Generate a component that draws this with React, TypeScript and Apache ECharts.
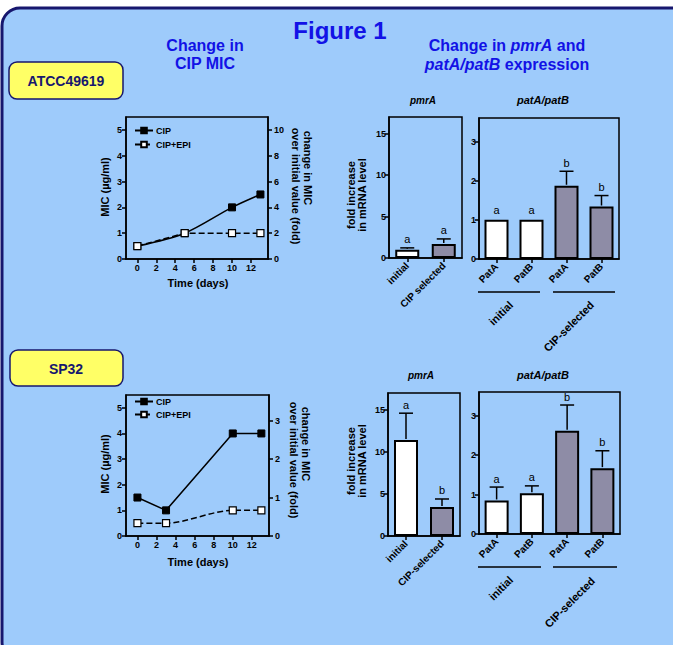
import React, { useEffect, useRef } from "react";
import * as echarts from "echarts";

// ---------- data ----------
const days1 = [0, 5, 10, 13];
const cip1 = [0.5, 1, 2, 2.5];
const cipEpi1 = [0.5, 1, 1, 1];

const days2 = [0, 3, 10, 13];
const cip2 = [1.5, 1, 4, 4];
const cipEpi2 = [0.5, 0.5, 1, 1];

const timeTicks = [0, 2, 4, 6, 8, 10, 12];
const micTicks = [0, 1, 2, 3, 4, 5];
const foldTicks1 = [0, 2, 4, 6, 8, 10];
const foldTicks2 = [0, 1, 2, 3];
const pmrTicks = [0, 5, 10, 15];
const patTicks = [0, 1, 2, 3];

const pmrCats1 = ["initial", "CIP selected"];
const pmrVals1 = [1.0, 1.7];
const pmrErr1 = [0.22, 0.6];
const pmrLetters1 = ["a", "a"];

const pmrCats2 = ["initial", "CIP-selected"];
const pmrVals2 = [11.4, 3.45];
const pmrErr2 = [3.2, 0.95];
const pmrLetters2 = ["a", "b"];

const patCats = ["PatA", "PatB", "PatA", "PatB"];
const patVals1 = [1.0, 1.0, 1.87, 1.34];
const patErr1 = [0, 0, 0.37, 0.28];
const patLetters1 = ["a", "a", "b", "b"];

const patVals2 = [0.85, 1.03, 2.62, 1.67];
const patErr2 = [0.34, 0.19, 0.65, 0.44];
const patLetters2 = ["a", "a", "b", "b"];

const groupLabels = ["initial", "CIP-selected"];

// ---------- styles ----------
const FF = '"Liberation Sans", Arial, Helvetica, sans-serif';
const BLUE = "#1212e6";
const NAVY = "#17176e";
const GREY = "#8e8ca6";
const pmrFills = ["#ffffff", GREY];
const patFills = ["#ffffff", "#ffffff", GREY, GREY];

const fnt = (size: number, weight = "bold", style = "normal") =>
  `${style} ${weight} ${size}px ${FF}`;

const txt = (text: string, x: number, y: number, font: string, o: any = {}) => ({
  type: "text",
  x,
  y,
  rotation: o.rot || 0,
  silent: true,
  z: 10,
  style: {
    text,
    font,
    fill: o.fill || "#000",
    textAlign: o.align || "center",
    textVerticalAlign: o.va || "middle",
  },
});

const hline = (x1: number, x2: number, y: number) => ({
  type: "line",
  silent: true,
  z: 10,
  shape: { x1, y1: y, x2, y2: y },
  style: { stroke: "#000", lineWidth: 1.6 },
});

const axisLineStyle = { show: true, onZero: false, lineStyle: { color: "#000", width: 1.5 } };
const tickStyle = (vals?: number[]) => ({
  show: true,
  length: 4,
  lineStyle: { color: "#000", width: 1.5 },
  ...(vals ? { customValues: vals } : {}),
});
const labelStyle = (vals?: number[], extra: any = {}) => ({
  show: true,
  color: "#000",
  fontSize: 9,
  fontWeight: "bold",
  fontFamily: FF,
  margin: 4,
  ...(vals ? { customValues: vals } : {}),
  ...extra,
});

function valueX(gridIndex: number) {
  return {
    type: "value",
    gridIndex,
    min: -1.2,
    max: 13.8,
    axisLine: axisLineStyle,
    axisTick: tickStyle(timeTicks),
    axisLabel: labelStyle(timeTicks),
    splitLine: { show: false },
  };
}

function catX(gridIndex: number, data: string[]) {
  return {
    type: "category",
    gridIndex,
    data,
    axisLine: axisLineStyle,
    axisTick: { ...tickStyle(), alignWithLabel: true },
    axisLabel: labelStyle(undefined, { rotate: 45, fontSize: 10, margin: 6, interval: 0 }),
    splitLine: { show: false },
  };
}

function valueY(gridIndex: number, max: number, ticks: number[], position = "left", margin = 4) {
  return {
    type: "value",
    gridIndex,
    position,
    min: 0,
    max,
    axisLine: axisLineStyle,
    axisTick: tickStyle(ticks),
    axisLabel: labelStyle(ticks, { margin }),
    splitLine: { show: false },
  };
}

function lineSeries(name: string, xi: number, yi: number, xs: number[], ys: number[], open: boolean, smooth: number | boolean) {
  return {
    type: "line",
    name,
    xAxisIndex: xi,
    yAxisIndex: yi,
    data: xs.map((d, i) => [d, ys[i]]),
    symbol: "rect",
    symbolSize: 7,
    smooth,
    lineStyle: { color: "#000", width: 1.5, type: open ? [6, 3] : "solid" },
    itemStyle: open
      ? { color: "#ffffff", borderColor: "#000", borderWidth: 1.2 }
      : { color: "#000", borderColor: "#000", borderWidth: 1 },
    z: open ? 4 : 3,
  };
}

function barSeries(xi: number, yi: number, vals: number[], fills: string[]) {
  return {
    type: "bar",
    xAxisIndex: xi,
    yAxisIndex: yi,
    barWidth: 24,
    data: vals.map((v, i) => ({ value: v, itemStyle: { color: fills[i] } })),
    itemStyle: { borderColor: "#000", borderWidth: 2 },
    z: 2,
  };
}

function errSeries(xi: number, yi: number, vals: number[], errs: number[], letters: string[]) {
  return {
    type: "custom",
    xAxisIndex: xi,
    yAxisIndex: yi,
    clip: false,
    z: 5,
    data: vals.map((v, i) => [i, v, errs[i]]),
    renderItem: (params: any, api: any) => {
      const i = api.value(0);
      const v = api.value(1);
      const e = api.value(2);
      const base = api.coord([i, v]);
      const top = api.coord([i, v + e]);
      const children: any[] = [];
      if (e > 0) {
        children.push({
          type: "line",
          shape: { x1: base[0], y1: base[1] - 1, x2: top[0], y2: top[1] },
          style: { stroke: "#000", lineWidth: 1.5 },
        });
        children.push({
          type: "line",
          shape: { x1: top[0] - 7, y1: top[1], x2: top[0] + 7, y2: top[1] },
          style: { stroke: "#000", lineWidth: 1.5 },
        });
      }
      children.push({
        type: "text",
        x: top[0],
        y: top[1] - (e > 0 ? 3 : 4),
        style: {
          text: letters[params.dataIndex],
          font: fnt(11, "normal"),
          fill: "#000",
          textAlign: "center",
          textVerticalAlign: "bottom",
        },
      });
      return { type: "group", children };
    },
  };
}

const legendBase = {
  data: ["CIP", "CIP+EPI"],
  orient: "vertical",
  left: 134,
  itemWidth: 18,
  itemHeight: 7,
  padding: 0,
  selectedMode: false,
  textStyle: { color: "#000", fontSize: 9, fontWeight: "bold", fontFamily: FF, padding: [0, 0, 0, -2] },
};

export default function App() {
  const ref = useRef<HTMLDivElement>(null);

  useEffect(() => {
    if (!ref.current) return;
    const chart = echarts.init(ref.current, null, { renderer: "svg" });

    const grids = [
      { left: 126, top: 117, width: 142, height: 142 },
      { left: 126, top: 395, width: 143, height: 141 },
      { left: 389, top: 117, width: 73, height: 141 },
      { left: 479, top: 118, width: 140, height: 141 },
      { left: 388, top: 393, width: 72, height: 143 },
      { left: 479, top: 392, width: 141, height: 142 },
    ].map((g) => ({
      ...g,
      show: true,
      borderColor: "#000",
      borderWidth: 1.5,
      backgroundColor: "transparent",
      containLabel: false,
      outerBoundsMode: "none",
    }));

    const graphic: any[] = [
      {
        type: "rect",
        silent: true,
        z: -10,
        shape: { x: 2, y: 8, width: 690, height: 652, r: 18 },
        style: { fill: "#9ecbfb", stroke: NAVY, lineWidth: 3 },
      },
      txt("Figure 1", 340, 30, fnt(24), { fill: BLUE }),
      txt("Change in", 205, 45, fnt(16), { fill: BLUE }),
      txt("CIP MIC", 205, 63, fnt(16), { fill: BLUE }),
      {
        type: "text",
        x: 507,
        y: 45,
        silent: true,
        z: 10,
        style: {
          text: "{n|Change in }{i|pmrA}{n| and}",
          textAlign: "center",
          textVerticalAlign: "middle",
          font: fnt(16),
          fill: BLUE,
          rich: {
            n: { font: fnt(16), fill: BLUE, color: BLUE },
            i: { font: fnt(16, "bold", "italic"), fill: BLUE, color: BLUE },
          },
        },
      },
      {
        type: "text",
        x: 507,
        y: 64,
        silent: true,
        z: 10,
        style: {
          text: "{i|patA/patB}{n| expression}",
          textAlign: "center",
          textVerticalAlign: "middle",
          font: fnt(16),
          fill: BLUE,
          rich: {
            n: { font: fnt(16), fill: BLUE, color: BLUE },
            i: { font: fnt(16, "bold", "italic"), fill: BLUE, color: BLUE },
          },
        },
      },
      // strain boxes
      {
        type: "rect",
        silent: true,
        z: 1,
        shape: { x: 9, y: 62, width: 114, height: 37, r: 8 },
        style: { fill: "#ffff66", stroke: NAVY, lineWidth: 1.5 },
      },
      txt("ATCC49619", 66, 81, fnt(14), { fill: NAVY }),
      {
        type: "rect",
        silent: true,
        z: 1,
        shape: { x: 10, y: 350, width: 113, height: 36, r: 8 },
        style: { fill: "#ffff66", stroke: NAVY, lineWidth: 1.5 },
      },
      txt("SP32", 66, 369, fnt(14), { fill: NAVY }),
      // line chart axis names
      txt("MIC (µg/ml)", 105, 187, fnt(11), { rot: Math.PI / 2 }),
      txt("change in MIC", 308, 168, fnt(11), { rot: -Math.PI / 2 }),
      txt("over initial value (fold)", 296, 186, fnt(11), { rot: -Math.PI / 2 }),
      txt("Time (days)", 198, 283, fnt(11)),
      txt("MIC (µg/ml)", 105, 464, fnt(11), { rot: Math.PI / 2 }),
      txt("change in MIC", 306, 444, fnt(11), { rot: -Math.PI / 2 }),
      txt("over initial value (fold)", 294, 460, fnt(11), { rot: -Math.PI / 2 }),
      txt("Time (days)", 198, 562, fnt(11)),
      // bar chart titles and axis names
      txt("pmrA", 423, 100, fnt(10, "bold", "italic")),
      txt("patA/patB", 543, 100, fnt(11, "bold", "italic")),
      txt("pmrA", 421, 375, fnt(10, "bold", "italic")),
      txt("patA/patB", 543, 375, fnt(11, "bold", "italic")),
      txt("fold increase", 351, 195, fnt(11), { rot: Math.PI / 2 }),
      txt("in mRNA level", 362, 195, fnt(11), { rot: Math.PI / 2 }),
      txt("fold increase", 351, 461, fnt(11), { rot: Math.PI / 2 }),
      txt("in mRNA level", 362, 461, fnt(11), { rot: Math.PI / 2 }),
      // group lines and labels
      hline(478, 540, 292),
      hline(553, 615, 292),
      hline(478, 541, 567),
      hline(553, 617, 567),
      txt(groupLabels[0], 511, 303, fnt(11), { rot: Math.PI / 4, align: "right" }),
      txt(groupLabels[1], 592, 303, fnt(11), { rot: Math.PI / 4, align: "right" }),
      txt(groupLabels[0], 511, 578, fnt(11), { rot: Math.PI / 4, align: "right" }),
      txt(groupLabels[1], 593, 579, fnt(11), { rot: Math.PI / 4, align: "right" }),
    ];

    const option: any = {
      animation: false,
      textStyle: { fontFamily: FF },
      grid: grids,
      xAxis: [
        valueX(0),
        valueX(1),
        catX(2, pmrCats1),
        catX(3, patCats),
        catX(4, pmrCats2),
        catX(5, patCats),
      ],
      yAxis: [
        valueY(0, 5.5, micTicks),
        valueY(0, 11, foldTicks1, "right", 6),
        valueY(1, 5.5, micTicks),
        valueY(1, 11 / 3, foldTicks2, "right", 6),
        valueY(2, 17, pmrTicks, "left", 3),
        valueY(3, 3.6, patTicks, "left", 3),
        valueY(4, 17, pmrTicks, "left", 3),
        valueY(5, 3.6, patTicks, "left", 3),
      ],
      legend: [
        { ...legendBase, top: 126, itemGap: 5 },
        { ...legendBase, top: 397, itemGap: 4 },
      ],
      series: [
        lineSeries("CIP", 0, 0, days1, cip1, false, 0.3),
        lineSeries("CIP+EPI", 0, 0, days1, cipEpi1, true, false),
        lineSeries("CIP", 1, 2, days2, cip2, false, false),
        lineSeries("CIP+EPI", 1, 2, days2, cipEpi2, true, 0.3),
        barSeries(2, 4, pmrVals1, pmrFills),
        errSeries(2, 4, pmrVals1, pmrErr1, pmrLetters1),
        barSeries(3, 5, patVals1, patFills),
        errSeries(3, 5, patVals1, patErr1, patLetters1),
        barSeries(4, 6, pmrVals2, pmrFills),
        errSeries(4, 6, pmrVals2, pmrErr2, pmrLetters2),
        barSeries(5, 7, patVals2, patFills),
        errSeries(5, 7, patVals2, patErr2, patLetters2),
      ],
      graphic,
    };

    chart.setOption(option);
    return () => chart.dispose();
  }, []);

  return (
    <div
      ref={ref}
      style={{ position: "fixed", left: 0, top: 0, width: 673, height: 645, background: "#ffffff" }}
    />
  );
}
